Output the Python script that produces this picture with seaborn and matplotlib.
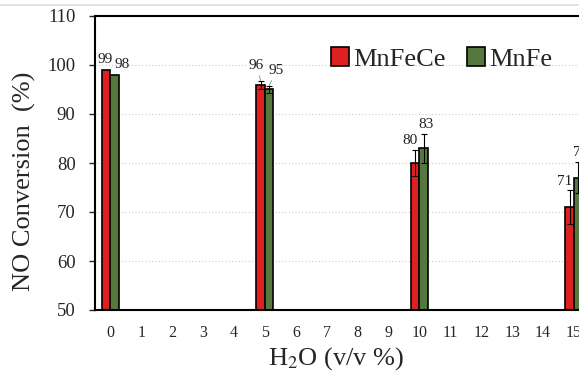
import numpy as np
import pandas as pd
import matplotlib.pyplot as plt
import matplotlib.lines as mlines
import seaborn as sns

sns.set_style("white")
plt.rcParams['font.family'] = ['Liberation Serif', 'DejaVu Serif']
plt.rcParams['mathtext.fontset'] = 'stix'

# data
h2o = [0, 5, 10, 15]
mnfece = [99, 96, 80, 71]
mnfe = [98, 95, 83, 77]
mnfece_err = [0.0, 0.8, 2.7, 3.4]
mnfe_err = [0.0, 0.8, 3.0, 3.2]
ticks = list(range(16))

df = pd.DataFrame({
    'H2O': h2o * 2,
    'conv': mnfece + mnfe,
    'cat': ['MnFeCe'] * 4 + ['MnFe'] * 4,
})

fig = plt.figure(figsize=(5.79, 3.74), dpi=100)
ax = fig.add_axes([95 / 579, 64 / 374, 1 - 95 / 579 + 0.01, 294 / 374])

sns.barplot(data=df, x='H2O', y='conv', hue='cat', order=ticks,
            hue_order=['MnFeCe', 'MnFe'], palette=['#ff0000', '#548235'],
            width=0.55, gap=0, edgecolor='black', linewidth=1.2,
            errorbar=None, ax=ax)

# error bars and value labels on top of seaborn's bars
bars_red = ax.containers[0]
bars_green = ax.containers[1]
label_shift = {  # (dx, dy) in points for red / green label
    0: [(-1, 3), (5, 3)],
    5: [(-3, 6), (5, 6)],
    10: [(-4, 2), (2, 2)],
    15: [(-4, 2), (2, 2)],
}
for i, x in enumerate(h2o):
    for j, (bars, vals, errs) in enumerate([(bars_red, mnfece, mnfece_err),
                                            (bars_green, mnfe, mnfe_err)]):
        b = bars[i]
        cx = b.get_x() + b.get_width() / 2
        if errs[i] > 0:
            ax.errorbar(cx, vals[i], yerr=errs[i], fmt='none', ecolor='black',
                        elinewidth=0.8, capsize=2, capthick=0.8)
        dx, dy = label_shift[x][j]
        ax.annotate(str(vals[i]), xy=(cx, vals[i] + errs[i]),
                    xytext=(dx, dy), textcoords='offset points',
                    ha='center', va='bottom', fontsize=11, color='#222222',
                    arrowprops=dict(arrowstyle='-', color='#888888', lw=0.6,
                                    shrinkA=0, shrinkB=0) if x == 5 else None)

ax.set_xlim(-0.5, 15.35)
ax.set_ylim(50, 110)
ax.set_yticks(range(50, 111, 10))
ax.yaxis.grid(True, linestyle=(0, (1, 2)), color='#cccccc', linewidth=0.8)
ax.set_axisbelow(True)
for s in ['left', 'top', 'bottom']:
    ax.spines[s].set_color('black')
    ax.spines[s].set_linewidth(1.5)
ax.spines['right'].set_visible(False)
ax.tick_params(axis='y', length=4, width=1, direction='out', labelsize=13.5,
               left=True, pad=10)
ax.tick_params(axis='x', length=0, labelsize=11.5, pad=11)

ax.set_xlabel('H$_2$O (v/v %)', fontsize=19)
ax.set_ylabel('NO Conversion  (%)', fontsize=19)
ax.xaxis.set_label_coords((336 - 95) / (579 - 95 + 5.79), -0.118)
ax.yaxis.set_label_coords(-0.12, (310 - 181) / 294)

ax.legend(loc='upper left', bbox_to_anchor=(0.46, 0.93), ncol=2, frameon=False,
          fontsize=19, handlelength=0.7, handleheight=0.7, handletextpad=0.15,
          columnspacing=0.8, borderaxespad=0)

fig.add_artist(mlines.Line2D([0, 1], [1 - 5 / 374, 1 - 5 / 374],
                             color='#dddddd', linewidth=1.2))

fig.savefig('out.png', dpi=100)
